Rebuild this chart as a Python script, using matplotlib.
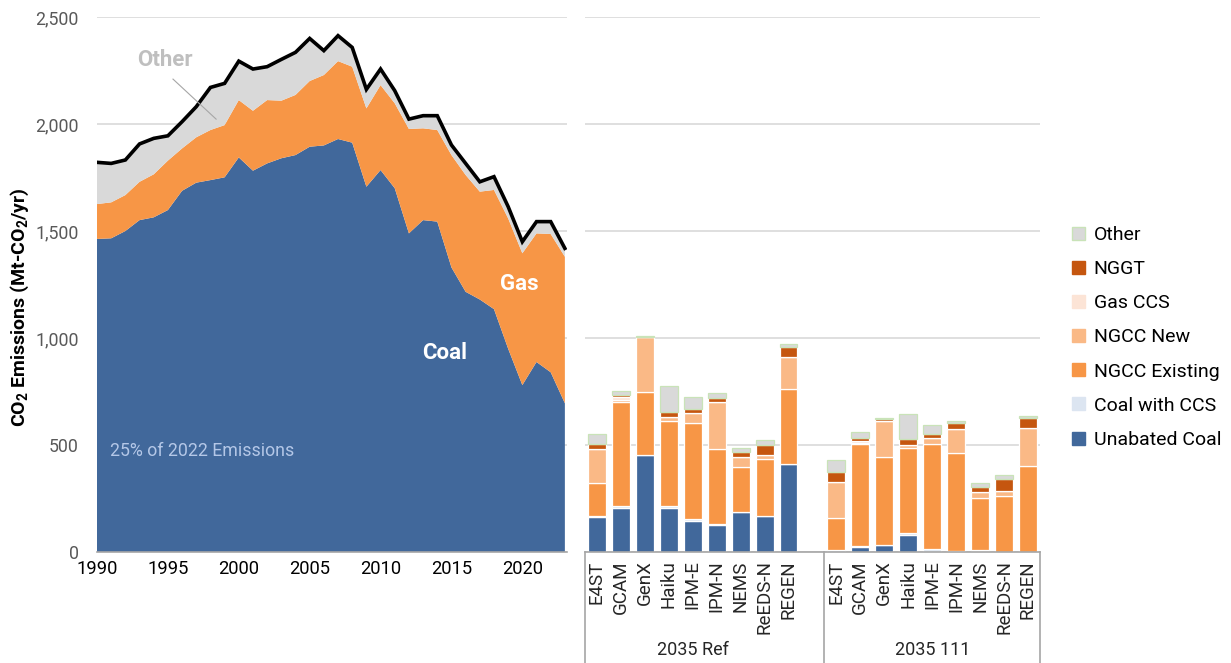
import numpy as np
import matplotlib.pyplot as plt
from matplotlib.patches import Patch

plt.rcParams['font.family'] = ['Roboto', 'DejaVu Sans']
plt.rcParams['mathtext.fontset'] = 'custom'
plt.rcParams['mathtext.rm'] = 'Roboto'
plt.rcParams['mathtext.bf'] = 'Roboto:bold'

# historical emissions (Mt-CO2/yr)
years = np.arange(1990, 2024)
coal = [1463, 1466, 1500, 1551, 1564, 1598, 1688, 1726, 1738, 1751, 1844, 1782, 1816, 1840, 1855, 1894, 1900,
        1930, 1913, 1707, 1785, 1700, 1489, 1551, 1544, 1330, 1216, 1180, 1135, 950, 780, 888, 840, 695]
gas = [163, 168, 168, 179, 201, 231, 198, 212, 234, 244, 268, 280, 296, 269, 281, 307, 329,
       364, 355, 366, 397, 397, 488, 429, 428, 525, 546, 504, 557, 609, 616, 601, 646, 685]
other = [195, 182, 164, 177, 168, 116, 125, 143, 199, 195, 182, 195, 156, 193, 199, 199, 114,
         119, 90, 89, 75, 59, 46, 59, 67, 47, 54, 46, 62, 55, 54, 55, 58, 39]
total = np.array(coal) + np.array(gas) + np.array(other)

# 2035 scenarios
models = ["E4ST", "GCAM", "GenX", "Haiku", "IPM-E", "IPM-N", "NEMS", "ReEDS-N", "REGEN"]
groups = ["2035 Ref", "2035 111"]
ref = {
    "Unabated Coal": [162, 204, 452, 204, 146, 127, 186, 168, 411],
    "Coal with CCS": [6, 11, 0, 11, 7, 4, 3, 0, 0],
    "NGCC Existing": [153, 487, 297, 399, 448, 350, 210, 268, 351],
    "NGCC New": [159, 8, 254, 18, 47, 219, 44, 16, 151],
    "Gas CCS": [0, 13, 0, 0, 0, 0, 0, 0, 0],
    "NGGT": [25, 9, 0, 21, 20, 21, 24, 48, 44],
    "Other": [46, 19, 8, 123, 55, 23, 20, 23, 13],
}
s111 = {
    "Unabated Coal": [0, 22, 31, 78, 0, 4, 4, 0, 0],
    "Coal with CCS": [8, 6, 0, 9, 14, 0, 7, 0, 0],
    "NGCC Existing": [153, 475, 414, 400, 492, 460, 241, 263, 402],
    "NGCC New": [165, 8, 167, 13, 27, 111, 30, 22, 177],
    "Gas CCS": [0, 9, 0, 0, 0, 0, 0, 0, 0],
    "NGGT": [50, 11, 8, 27, 20, 26, 22, 55, 47],
    "Other": [55, 31, 6, 118, 40, 13, 20, 21, 9],
}
techs = ["Unabated Coal", "Coal with CCS", "NGCC Existing", "NGCC New", "Gas CCS", "NGGT", "Other"]
colors = {"Unabated Coal": "#41689B", "Coal with CCS": "#DCE5F1", "NGCC Existing": "#F79646",
          "NGCC New": "#FAB986", "Gas CCS": "#FCE4D6", "NGGT": "#C5560F", "Other": "#D9D9D9"}

grid_c = "#D9D9D9"
fig = plt.figure(figsize=(12.31, 6.63), dpi=100)

# ---- left: historical area chart
ax = fig.add_axes([0.0788, 0.1674, 0.3818, 0.8069])
ax.stackplot(years, coal, gas, other, colors=[colors["Unabated Coal"], colors["NGCC Existing"], "#D9D9D9"],
             linewidth=0, zorder=2)
ax.plot(years, total, color="black", lw=2.6, zorder=3, solid_joinstyle="miter")
ax.set_xlim(1990, 2023.15)
ax.set_ylim(0, 2500)
ax.set_yticks(np.arange(0, 2501, 500))
ax.set_yticklabels([f"{v:,}" for v in range(0, 2501, 500)])
ax.set_xticks(np.arange(1990, 2021, 5))
ax.grid(axis="y", color=grid_c, lw=1.2, zorder=0)
ax.set_axisbelow(True)
for s in ["left", "right", "top"]:
    ax.spines[s].set_visible(False)
ax.spines["bottom"].set_color("#A6A6A6")
ax.spines["bottom"].set_linewidth(1.2)
ax.spines["bottom"].set_zorder(4)
ax.tick_params(axis="y", length=0, labelsize=12.8, labelcolor="#595959", pad=13)
ax.tick_params(axis="x", length=0, labelsize=13.2, labelcolor="black", pad=6)

ax.text(1994.8, 2299, "Other", color="#BFBFBF", fontsize=16, fontweight="bold", ha="center", va="center")
ax.plot([1995.36, 1998.4], [2210, 2023], color="#A6A6A6", lw=0.8, zorder=4)
ax.text(2019.8, 1252, "Gas", color="white", fontsize=16, fontweight="bold", ha="center", va="center", zorder=5)
ax.text(2014.5, 930, "Coal", color="white", fontsize=16, fontweight="bold", ha="center", va="center", zorder=5)
ax.text(1990.9, 472, "25% of 2022 Emissions", color="#B4C7E7", fontsize=12.8, ha="left", va="center", zorder=5)

fig.text(20 / 1231, 1 - 307 / 663, r"$\mathbf{CO}_{\mathbf{2}}$ Emissions (Mt-$\mathbf{CO}_{\mathbf{2}}$/yr)",
         rotation=90, ha="center", va="center", fontsize=14, fontweight="bold")

# ---- right: 2035 bars
bx = fig.add_axes([0.4752, 0.1674, 0.3696, 0.8069])
pos_ref = np.arange(len(models))
pos_111 = pos_ref + len(models) + 1
for pos, data in [(pos_ref, ref), (pos_111, s111)]:
    bottom = np.zeros(len(models))
    for t in techs:
        vals = np.array(data[t], dtype=float)
        edge = "#C9E3B8" if t == "Other" else "white"
        bx.bar(pos, vals, bottom=bottom, width=0.75, color=colors[t], edgecolor=edge, linewidth=0.9, zorder=2)
        bottom += vals
bx.set_xlim(-0.5, 2 * len(models) + 0.5)
bx.set_ylim(0, 2500)
bx.set_yticks(np.arange(0, 2501, 500))
bx.set_yticklabels([])
bx.grid(axis="y", color=grid_c, lw=1.2, zorder=0)
bx.set_axisbelow(True)
for s in ["left", "right", "top"]:
    bx.spines[s].set_visible(False)
bx.spines["bottom"].set_color("#A6A6A6")
bx.spines["bottom"].set_linewidth(1.2)
bx.tick_params(axis="y", length=0)
bx.set_xticks(np.concatenate([pos_ref, pos_111]))
bx.set_xticklabels(models + models, rotation=90, fontsize=13.5, color="#262626")
bx.tick_params(axis="x", length=0, pad=6)

# multi-level category boxes
for xv in [-0.5, len(models) + 0.5, 2 * len(models) + 0.5]:
    bx.plot([xv, xv], [0, -0.21], color="#A6A6A6", lw=1.2, clip_on=False,
            transform=bx.get_xaxis_transform())
for g, pos in zip(groups, [pos_ref, pos_111]):
    bx.text(pos.mean(), -0.184, g, transform=bx.get_xaxis_transform(), ha="center", va="center",
            fontsize=13, color="#262626")

# legend
handles = []
for t in techs[::-1]:
    edge = "#C9E3B8" if t == "Other" else colors[t]
    handles.append(Patch(facecolor=colors[t], edgecolor=edge, label=t))
fig.legend(handles=handles, loc="center left", bbox_to_anchor=(0.857, 0.491), frameon=False,
           fontsize=14, handlelength=0.65, handleheight=0.65, handletextpad=0.45, labelspacing=0.83)

fig.savefig("out.png", dpi=100)
